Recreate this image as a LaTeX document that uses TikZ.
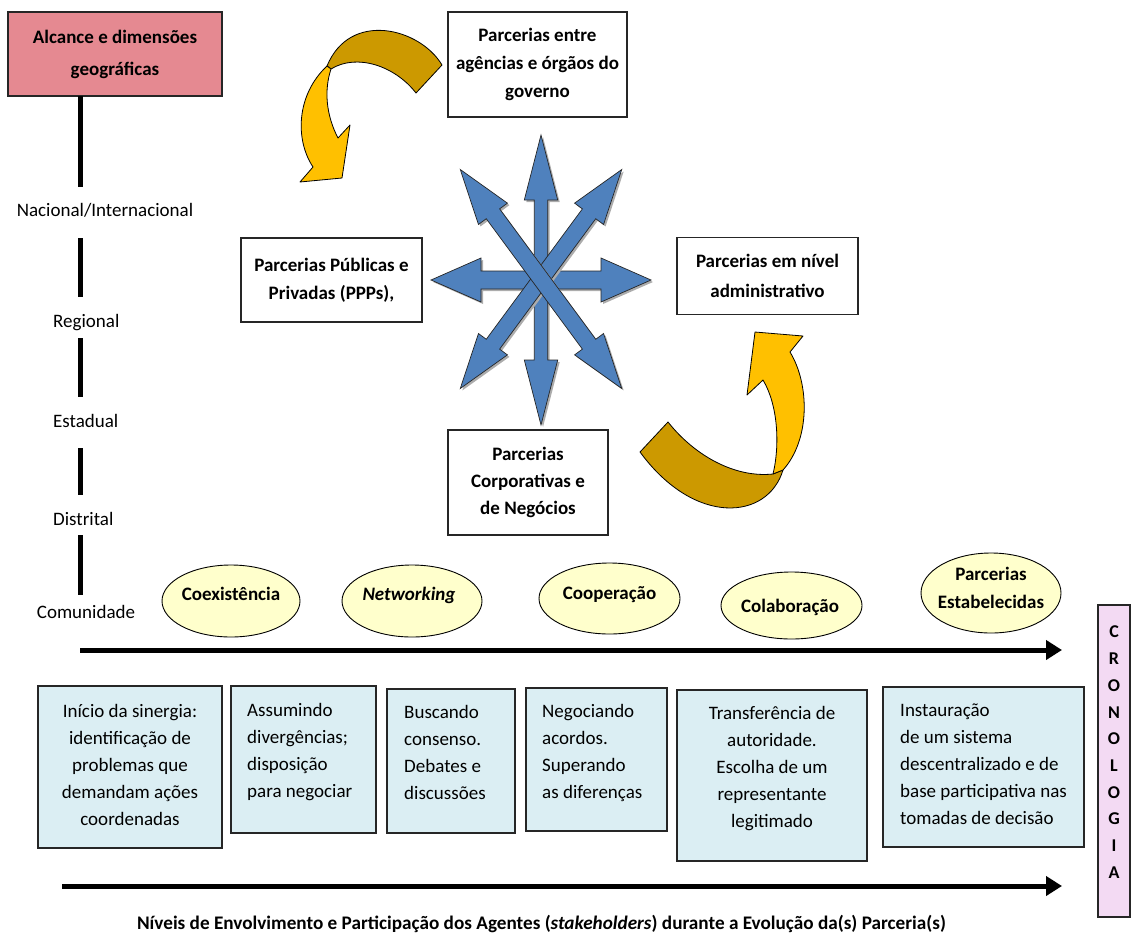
\documentclass[tikz,border=0pt]{standalone}
\usepackage{fontspec}
\setmainfont{Carlito}
\usetikzlibrary{shapes.geometric,arrows.meta}
\definecolor{pinkbox}{RGB}{229,137,145}
\definecolor{bluebox}{RGB}{219,238,243}
\definecolor{ellfill}{RGB}{255,255,204}
\definecolor{cronofill}{RGB}{243,218,243}
\definecolor{starblue}{RGB}{79,129,189}
\definecolor{goldband}{RGB}{204,153,0}
\definecolor{amberband}{RGB}{255,192,0}
% #1 cx, #2 cy, #3 angle, #4 half length, #5 shaft half width, #6 head half width, #7 head length
\newcommand{\dblarrowshape}[7]{%
  \begin{scope}[shift={(#1+2,#2+2)},rotate=#3]
    \fill[gray!65] ({#4},0) -- ({#4-#7},{#6}) -- ({#4-#7},{#5}) -- ({-#4+#7},{#5}) -- ({-#4+#7},{#6}) -- ({-#4},0)
      -- ({-#4+#7},{-#6}) -- ({-#4+#7},{-#5}) -- ({#4-#7},{-#5}) -- ({#4-#7},{-#6}) -- cycle;
  \end{scope}
  \begin{scope}[shift={(#1,#2)},rotate=#3]
    \filldraw[fill=starblue,draw=black!85,line width=0.7pt,line join=miter] ({#4},0) -- ({#4-#7},{#6}) -- ({#4-#7},{#5}) -- ({-#4+#7},{#5}) -- ({-#4+#7},{#6}) -- ({-#4},0)
      -- ({-#4+#7},{-#6}) -- ({-#4+#7},{-#5}) -- ({#4-#7},{-#5}) -- ({#4-#7},{-#6}) -- cycle;
  \end{scope}}
\begin{document}
\begin{tikzpicture}[x=1pt,y=-1pt,
  box/.style={draw=black!85, line width=1.2pt, inner sep=0pt, align=center},
  tbox/.style={box, fill=white, font=\bfseries\fontsize{19}{28}\selectfont},
  sbox/.style={box, fill=bluebox},
  ell/.style={ellipse, draw=black, line width=0.9pt, fill=ellfill, inner sep=0pt},
  lbl/.style={inner sep=0pt, font=\fontsize{19}{27}\selectfont},
  blbl/.style={inner sep=0pt, font=\bfseries\fontsize{19}{28}\selectfont},
  txt/.style={inner sep=0pt, font=\fontsize{19}{27}\selectfont},
  axis/.style={line width=5pt},
  timeline/.style={line width=5pt, -{Triangle[length=16pt,width=19pt]}},
  band/.style={draw=black, line width=0.8pt, line join=round}]
\useasboundingbox (0,0) rectangle (1131,937);

% ---- geographic axis
\node[box, fill=pinkbox, minimum width=214, minimum height=84, font=\bfseries\fontsize{19}{32}\selectfont] (alc) at (115,54) {Alcance e dimensões\\geográficas};
\draw[axis] (80,96) -- (80,187);
\draw[axis] (80,238) -- (80,297);
\draw[axis] (80,338) -- (80,397);
\draw[axis] (80,448) -- (80,495);
\draw[axis] (80,535) -- (80,595);
\node[lbl, anchor=base] (nac) at (105,216) {Nacional/Internacional};
\node[lbl, anchor=base west] (reg) at (53,327) {Regional};
\node[lbl, anchor=base west] (est) at (53,427) {Estadual};
\node[lbl, anchor=base west] (dis) at (53,525) {Distrital};
\node[lbl, anchor=base] (com) at (86,618) {Comunidade};

% ---- partnership boxes
\node[tbox, minimum width=179, minimum height=105] (gov) at (537.5,64.5) {Parcerias entre\\agências e órgãos do\\governo};
\node[tbox, minimum width=181, minimum height=84] (ppp) at (331.5,280) {Parcerias Públicas e\\Privadas (PPPs),};
\node[tbox, minimum width=181, minimum height=77, font=\bfseries\fontsize{19}{30}\selectfont] (adm) at (767.5,276) {Parcerias em nível\\administrativo};
\node[tbox, minimum width=160, minimum height=105, font=\bfseries\fontsize{19}{27}\selectfont] (corp) at (528,482.5) {Parcerias\\Corporativas e\\de Negócios};

% ---- blue star of arrows
\dblarrowshape{541}{280}{90}{145}{6.7}{16.7}{65}
\dblarrowshape{541}{280}{0}{110}{9}{22}{50}
\dblarrowshape{541}{279}{53.6}{136}{8.3}{18}{55}
\dblarrowshape{541}{279}{-53.6}{136}{8.3}{18}{55}

% ---- curved arrow (top left)
\filldraw[band, fill=goldband] (442,65) .. controls (420,28) and (350,10) .. (327,66) -- (331,69) .. controls (357,53) and (395,66) .. (416,93) -- cycle;
\filldraw[band, fill=amberband] (327,66) .. controls (296,95) and (295,140) .. (313,167) -- (300,182) -- (342,178) -- (350,125) -- (338,138) .. controls (326,115) and (324,90) .. (331,69) -- cycle;

% ---- curved arrow (bottom right)
\filldraw[band, fill=goldband] (668,422) .. controls (695,456) and (735,478) .. (773,474) -- (783,470) .. controls (768,520) and (695,527) .. (640,452) -- cycle;
\filldraw[band, fill=amberband] (773,474) .. controls (780,445) and (778,405) .. (763,380) -- (747,395) -- (755,332) -- (803,336) -- (790,352) .. controls (810,385) and (810,440) .. (783,470) -- cycle;

% ---- stages (ellipses)
\node[ell, minimum width=138, minimum height=72] (e1) at (231,601) {};
\node[blbl, anchor=base] (e1t) at (231,600) {Coexistência};
\node[ell, minimum width=140, minimum height=72] (e2) at (412,601) {};
\node[blbl, anchor=base] (e2t) at (409,600) {\itshape Networking};
\node[ell, minimum width=141, minimum height=71] (e3) at (609.5,598.5) {};
\node[blbl, anchor=base] (e3t) at (609.5,599) {Cooperação};
\node[ell, minimum width=141, minimum height=67] (e4) at (791.5,605.5) {};
\node[blbl, anchor=base] (e4t) at (790,612) {Colaboração};
\node[ell, minimum width=140, minimum height=80] (e5) at (991,593) {};
\node[blbl, anchor=north, align=center] (e5t) at (991,560.5) {\strut Parcerias\\Estabelecidas};

% ---- time line arrows
\coordinate (t1s) at (80,650);
\coordinate (t1e) at (1062,650);
\draw[timeline] (t1s) -- (t1e);
\coordinate (t2s) at (62,886);
\coordinate (t2e) at (1062,886);
\draw[timeline] (t2s) -- (t2e);

% ---- description boxes
\node[sbox, minimum width=184, minimum height=162] (b1) at (130,767) {};
\node[txt, anchor=north, align=center] (b1t) at (130,698.5) {\strut Início da sinergia:\\identificação de\\problemas que\\demandam ações\\coordenadas};
\node[sbox, minimum width=145, minimum height=147] (b2) at (303.5,759.5) {};
\node[txt, anchor=north west, align=left] (b2t) at (247,697.5) {\strut Assumindo\\divergências;\\disposição\\para negociar};
\node[sbox, minimum width=128, minimum height=144] (b3) at (451,761) {};
\node[txt, anchor=north west, align=left] (b3t) at (404,699.5) {\strut Buscando\\consenso.\\Debates e\\discussões};
\node[sbox, minimum width=141, minimum height=143] (b4) at (596.5,759.5) {};
\node[txt, anchor=north west, align=left] (b4t) at (542,698.5) {\strut Negociando\\acordos.\\Superando\\as diferenças};
\node[sbox, minimum width=190, minimum height=171] (b5) at (772,775.5) {};
\node[txt, anchor=north, align=center] (b5t) at (772,700.5) {\strut Transferência de\\autoridade.\\Escolha de um\\representante\\legitimado};
\node[sbox, minimum width=201, minimum height=160] (b6) at (983.5,767) {};
\node[txt, anchor=north west, align=left] (b6t) at (900,697.5) {\strut Instauração\\de um sistema\\descentralizado e de\\base participativa nas\\tomadas de decisão};

% ---- chronology
\node[box, fill=cronofill, minimum width=32, minimum height=312] (cro) at (1114,761) {};
\node[inner sep=0pt, anchor=north, align=center, font=\bfseries\fontsize{18}{26.7}\selectfont] (crot) at (1114,619) {\strut C\\R\\O\\N\\O\\L\\O\\G\\I\\A};

% ---- caption
\node[inner sep=0pt, anchor=base, font=\bfseries\fontsize{19.2}{22}\selectfont] (cap) at (541.5,929) {Níveis de Envolvimento e Participação dos Agentes (\textit{stakeholders}) durante a Evolução da(s) Parceria(s)};
\end{tikzpicture}
\end{document}
